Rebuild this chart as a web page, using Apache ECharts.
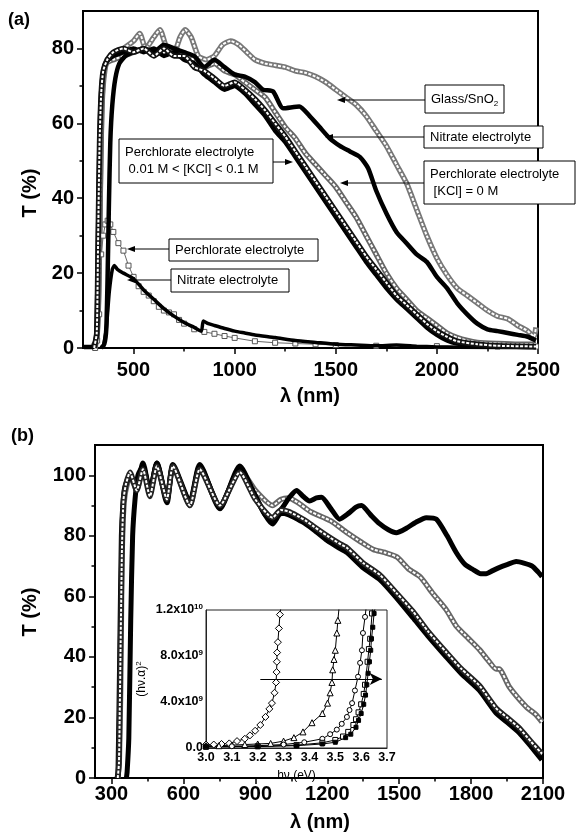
<!DOCTYPE html>
<html>
<head>
<meta charset="utf-8">
<script src="https://cdn.jsdelivr.net/npm/echarts@6/dist/echarts.min.js"></script>
<style>html,body{margin:0;padding:0;background:#fff}#c{width:576px;height:834px}</style>
</head>
<body>
<div id="c"></div>
<script>
// ---------- Panel (a) data: [wavelength nm, T %] ----------
const aGlass = [[300,0.5],[315,2],[325,10],[332,30],[338,52],[345,66],[355,73],[370,77],[400,78],[450,80],[500,82],[530,84],[560,80],[600,83],[630,85],[665,80],[700,79],[730,83],[755,85],[785,83],[820,78],[860,77],[900,78],[940,81],[980,82],[1020,81],[1060,79],[1100,77],[1150,76],[1200,75.5],[1250,75],[1300,74],[1350,73.5],[1400,72.5],[1450,71],[1500,69],[1550,67],[1600,65],[1650,62],[1700,58],[1750,54],[1800,49],[1850,44],[1900,37],[1950,30],[2000,24],[2050,19.5],[2100,16],[2150,14],[2200,12],[2250,10],[2300,8.5],[2350,7.8],[2400,6],[2450,4.5],[2480,3],[2490,5.5]];
const aNitrate = [[340,0],[355,1],[365,5],[372,20],[378,38],[385,55],[395,65],[410,72],[430,76],[460,78],[500,79],[550,80],[600,79],[650,81],[700,80],[750,79],[800,78],[850,75],[900,77],[950,75],[1000,73],[1050,72.5],[1100,71],[1140,69],[1190,68.5],[1240,64],[1320,64.5],[1370,62],[1420,59],[1470,56],[1520,54],[1570,52.5],[1620,51],[1660,48],[1700,42],[1750,36],[1800,31],[1850,28],[1900,25],[1950,23],[2000,19],[2050,16],[2100,12],[2150,9],[2200,6.5],[2250,5],[2300,4.5],[2350,4],[2400,3.5],[2450,3],[2490,2]];
const aKcl0 = [[305,0],[318,2],[328,15],[335,40],[342,62],[350,72],[365,76],[400,77],[450,78],[500,79],[550,80],[600,79],[650,80],[700,80],[750,78],[800,77],[850,75],[900,76],[950,74],[1000,73],[1050,71],[1100,69],[1150,67],[1200,63],[1250,59],[1300,56],[1350,52],[1400,49],[1450,46],[1500,43],[1550,39],[1600,35],[1650,30],[1700,25],[1750,20],[1800,16],[1850,13],[1900,10],[1950,8],[2000,6],[2050,4],[2100,2.8],[2150,2],[2200,1.5],[2300,1.2],[2400,1],[2490,1]];
const aKclMidFilled = [[255,0.3],[300,0.3],[315,3],[322,20],[328,45],[335,63],[345,72],[360,76],[400,78],[450,79],[500,80],[550,79],[600,80],[650,78],[700,79],[750,77],[800,76],[850,73],[900,71],[950,69],[1000,70],[1050,68],[1100,65],[1150,62],[1200,58],[1250,55],[1300,51],[1350,47],[1400,43],[1450,39],[1500,35],[1550,31],[1600,27],[1650,23],[1700,19.5],[1750,16],[1800,13],[1850,10.5],[1900,8],[1950,5.5],[2000,3.5],[2050,2],[2100,1.2],[2200,0.6],[2300,0.4],[2490,0.3]];
const aKclMidOpen = [[305,0],[318,4],[325,30],[332,55],[340,68],[350,74],[370,77],[400,79],[450,80],[500,79],[550,80],[600,78],[650,80],[700,78],[750,78],[800,75],[850,74],[900,72],[950,70],[1000,71],[1050,69],[1100,66.5],[1150,63.5],[1200,60],[1250,56.5],[1300,52.5],[1350,48.5],[1400,44.5],[1450,40.5],[1500,36.5],[1550,32.5],[1600,28.5],[1650,24.5],[1700,21],[1750,17.5],[1800,14],[1850,11.5],[1900,9],[1950,6.5],[2000,4.5],[2050,3],[2100,1.8],[2200,1],[2300,0.6],[2490,0.4]];
const aLowPerchlorate = [[310,0],[320,2],[330,9],[340,25],[350,30],[360,33],[372,34],[385,33],[400,31],[425,28],[450,26],[475,22],[500,19],[525,16.5],[550,15],[575,14],[600,12.5],[625,11],[650,10],[675,9.5],[700,9],[725,7.5],[750,6.5],[800,5],[850,4.3],[900,3.8],[950,3.2],[1000,2.7],[1100,1.8],[1200,1.4],[1300,1.2],[1400,1],[1500,0.8],[1700,0.6],[2000,0.5],[2300,0.4],[2490,0.4]];
const aLowNitrate = [[350,0],[365,5],[380,15],[395,21],[405,22],[420,21],[450,20],[500,18.5],[550,15.5],[600,13],[650,10.5],[700,8.5],[750,6.8],[800,5.5],[835,4.5],[845,7.2],[870,6.5],[900,6],[950,5.2],[1000,4.5],[1050,4],[1100,3.5],[1200,2.8],[1300,2],[1400,1.5],[1500,1],[1600,0.8],[1700,0.6],[1800,0.8],[1900,0.5],[2000,0.3],[2100,0.2],[2490,0.1]];
const aXTicks = [500,1000,1500,2000,2500];
const aXMinor = [750,1250,1750,2250];
const aYTicks = [0,20,40,60,80];
const aYMinor = [10,30,50,70];

// ---------- Panel (b) data ----------
const bTop = [[362,0],[365,2],[372,13],[380,52],[388,80],[398,92],[410,100],[431,103],[460,95],[489,104],[531,92],[556,103],[627,91],[668,103],[752,90],[835,102],[900,93],[940,87],[972,85],[1010,89],[1045,93],[1072,95],[1100,93],[1126,91.5],[1155,92.5],[1176,92.7],[1215,89],[1251,85.5],[1290,87.5],[1320,89.5],[1343,90],[1380,87],[1418,84],[1455,82],[1488,81],[1530,82.5],[1570,84.5],[1613,86],[1655,85.5],[1700,80],[1738,74.5],[1775,70.5],[1805,69],[1840,67.5],[1863,67.5],[1890,68.5],[1917,69.5],[1950,70.5],[1988,71.5],[2020,71],[2055,70],[2080,68],[2096,66.5]];
const bGlass = [[326,0],[332,5],[338,30],[343,70],[348,85],[355,93],[365,97],[377,100],[405,95],[431,103],[460,94],[489,104],[531,92],[556,103],[627,90],[668,103],[752,89.5],[835,102],[900,95],[972,90],[1006,92],[1040,92.5],[1077,91],[1130,88],[1213,85],[1283,81],[1340,78],[1392,75.5],[1440,74.5],[1491,73],[1540,69],[1587,66.5],[1640,61],[1697,55.5],[1740,50],[1790,46],[1835,42.4],[1870,39],[1905,36],[1917,36],[1960,30],[2030,23.5],[2070,21],[2096,18.5]];
const bLowFilled = [[324,0],[328,2],[335,40],[342,80],[348,90],[356,96],[377,100],[405,96],[431,104],[460,94],[489,104],[531,91],[556,103.5],[627,91],[668,103.5],[752,89],[835,103],[900,93],[972,84],[1006,87.5],[1040,87],[1077,85.5],[1110,84],[1145,82],[1200,78.5],[1250,76],[1283,74.5],[1350,69.5],[1421,65.5],[1490,59.5],[1558,53],[1620,47],[1697,40],[1760,34.5],[1835,29],[1905,21.5],[1950,18.5],[2001,15],[2050,10.5],[2096,6]];
const bLowOpen = [[326,0],[331,5],[338,45],[344,78],[350,92],[360,97],[377,101],[405,95],[431,102],[460,93],[489,103],[531,92],[556,103],[627,90],[668,102],[752,90],[835,101],[900,92],[972,86],[1006,88.5],[1040,88],[1077,86.5],[1110,85],[1145,83],[1200,80],[1250,77.5],[1283,76],[1350,71],[1421,67],[1490,61],[1558,55],[1620,48.5],[1697,41.5],[1760,36],[1835,30.5],[1905,23],[1950,20],[2001,16.5],[2050,12],[2096,8]];
const bXTicks = [300,600,900,1200,1500,1800,2100];
const bXMinor = [450,750,1050,1350,1650,1950];
const bYTicks = [0,20,40,60,80,100];
const bYMinor = [10,30,50,70,90];

// ---------- Inset data: [hv eV, (hv·α)^2 in units of 10^9] ----------
const inDiamond = [[3.00,0.3],[3.03,0.3],[3.06,0.35],[3.09,0.4],[3.12,0.6],[3.15,0.8],[3.17,1.1],[3.19,1.5],[3.21,2.0],[3.23,2.7],[3.245,3.4],[3.255,3.9],[3.265,4.8],[3.271,5.7],[3.273,6.6],[3.274,7.5],[3.275,8.3],[3.278,9.2],[3.282,10.4],[3.286,11.6],[3.29,12.3]];
const inTriangle = [[3.00,0.2],[3.05,0.2],[3.10,0.25],[3.15,0.3],[3.20,0.35],[3.25,0.4],[3.30,0.6],[3.34,0.9],[3.375,1.4],[3.41,2.2],[3.45,3.0],[3.47,3.9],[3.48,4.8],[3.487,5.7],[3.49,6.8],[3.495,7.7],[3.50,8.5],[3.506,10.0],[3.51,11.1],[3.515,12.3]];
const inCircle = [[3.0,0.15],[3.1,0.15],[3.2,0.2],[3.3,0.3],[3.38,0.5],[3.45,0.8],[3.48,1.2],[3.506,1.6],[3.525,2.1],[3.545,2.7],[3.555,3.3],[3.565,3.9],[3.576,5.0],[3.588,6.2],[3.596,7.4],[3.603,8.5],[3.607,10.0],[3.615,11.4],[3.62,12.3]];
const inSquareOpen = [[3.0,0.1],[3.2,0.15],[3.35,0.25],[3.45,0.45],[3.5,0.7],[3.53,1.0],[3.55,1.4],[3.57,2.0],[3.58,2.5],[3.59,3.1],[3.60,3.8],[3.61,4.7],[3.615,5.5],[3.625,7.5],[3.63,8.6],[3.635,9.5],[3.642,11.7],[3.645,12.3]];
const inSquareFilled = [[3.0,0.1],[3.2,0.12],[3.35,0.2],[3.45,0.35],[3.5,0.5],[3.54,0.9],[3.56,1.2],[3.58,1.8],[3.59,2.4],[3.60,3.0],[3.61,3.8],[3.617,4.6],[3.622,5.5],[3.627,6.5],[3.632,7.5],[3.637,8.5],[3.64,9.5],[3.645,10.5],[3.65,11.7],[3.655,12.3]];
const inArrow = [[3.21,6.0],[3.68,6.0]];
const inYLabels = {0:'0.0',4:'4.0x10{s|9}',8:'8.0x10{s|9}',12:'1.2x10{s|10}'};

const FONT = "'Liberation Sans', Arial, Helvetica, sans-serif";
const chart = echarts.init(document.getElementById('c'), null, {renderer:'canvas'});

function openTube(data, xi, color, z){
  return [
    {type:'line', xAxisIndex:xi, yAxisIndex:xi, data, symbol:'none', smooth:0.2, lineStyle:{color, width:5.5}, z:z, silent:true},
    {type:'line', xAxisIndex:xi, yAxisIndex:xi, data, symbol:'none', smooth:0.2, lineStyle:{color:'#fff', width:2, type:[3,1.5]}, z:z+0.1, silent:true}
  ];
}
function filledLine(data, xi, w, z){
  return {type:'line', xAxisIndex:xi, yAxisIndex:xi, data, symbol:'none', smooth:0.2, lineStyle:{color:'#000', width:w}, z:z, silent:true};
}
function insetSeries(data, symbol, size, fill){
  return {type:'line', xAxisIndex:4, yAxisIndex:4, data, symbol, symbolSize:size, showAllSymbol:true,
    lineStyle:{color:'#000', width:1}, itemStyle:{color:fill, borderColor:'#000', borderWidth:1}, z:5, silent:true};
}
const axisBase = {
  type:'value', splitLine:{show:false},
  axisLine:{show:true, onZero:false, lineStyle:{color:'#000', width:2}},
};
function mainX(grid, min, max, ticks, margin){
  return Object.assign({}, axisBase, {gridIndex:grid, min, max, position:'bottom',
    axisTick:{show:true, customValues:ticks, length:6, lineStyle:{color:'#000', width:1.5}},
    axisLabel:{customValues:ticks, color:'#000', fontSize:20, fontWeight:'bold', fontFamily:FONT, margin, formatter:v=>String(v)}});
}
function minorX(grid, min, max, ticks){
  return {type:'value', gridIndex:grid, min, max, position:'bottom', splitLine:{show:false},
    axisLine:{show:false}, axisLabel:{show:false},
    axisTick:{show:true, customValues:ticks, length:3.5, lineStyle:{color:'#000', width:1.5}}};
}
function mainY(grid, min, max, ticks){
  return Object.assign({}, axisBase, {gridIndex:grid, min, max, position:'left',
    axisTick:{show:true, customValues:ticks, length:6, lineStyle:{color:'#000', width:1.5}},
    axisLabel:{customValues:ticks, color:'#000', fontSize:20, fontWeight:'bold', fontFamily:FONT, margin:9, formatter:v=>String(v)}});
}
function minorY(grid, min, max, ticks){
  return {type:'value', gridIndex:grid, min, max, position:'left', splitLine:{show:false},
    axisLine:{show:false}, axisLabel:{show:false},
    axisTick:{show:true, customValues:ticks, length:3.5, lineStyle:{color:'#000', width:1.5}}};
}

// annotation helper (panel a)
function box(x, y, w, h, lines){
  const els = [{type:'rect', shape:{x, y, width:w, height:h}, style:{fill:'#fff', stroke:'#000', lineWidth:1}, z:100}];
  els.push({type:'text', x:x+6, y:y+h/2, z:101, style:{text:lines, fill:'#000', font:"13px "+FONT, textAlign:'left', textVerticalAlign:'middle', lineHeight:17,
    rich:{sub:{fontSize:8, verticalAlign:'bottom', padding:[6,0,0,0], fontFamily:FONT}}}});
  return els;
}
function arrow(x1, x2, y){
  const dir = x2 < x1 ? 1 : -1;
  return [
    {type:'line', shape:{x1, y1:y, x2:x2 + dir*6, y2:y}, style:{stroke:'#000', lineWidth:1}, z:100},
    {type:'polygon', shape:{points:[[x2,y],[x2+dir*8,y-3],[x2+dir*8,y+3]]}, style:{fill:'#000'}, z:100}
  ];
}

const graphics = [].concat(
  box(425, 85, 79, 28, 'Glass/SnO{sub|2}'), arrow(425, 337, 100),
  box(424, 126, 119, 22, 'Nitrate electrolyte'), arrow(424, 325, 137),
  box(424, 161, 151, 43, 'Perchlorate electrolyte\n [KCl] = 0 M'), arrow(424, 340, 183),
  box(119, 139, 154, 44, 'Perchlorate electrolyte\n 0.01 M < [KCl] < 0.1 M'), arrow(273, 293, 162),
  box(169, 239, 149, 22, 'Perchlorate electrolyte'), arrow(169, 127, 249),
  box(171, 269, 118, 23, 'Nitrate electrolyte'), arrow(171, 127, 280),
  [
    {type:'text', x:8, y:20, style:{text:'(a)', font:"bold 18px "+FONT, fill:'#000', textVerticalAlign:'middle'}},
    {type:'text', x:11, y:436, style:{text:'(b)', font:"bold 18px "+FONT, fill:'#000', textVerticalAlign:'middle'}},
    {type:'text', x:30, y:193, rotation:Math.PI/2, style:{text:'T (%)', font:"bold 20px "+FONT, fill:'#000', textAlign:'center', textVerticalAlign:'middle'}},
    {type:'text', x:30, y:612, rotation:Math.PI/2, style:{text:'T (%)', font:"bold 20px "+FONT, fill:'#000', textAlign:'center', textVerticalAlign:'middle'}},
    {type:'text', x:310, y:396, style:{text:'λ (nm)', font:"bold 20px "+FONT, fill:'#000', textAlign:'center', textVerticalAlign:'middle'}},
    {type:'text', x:320, y:822, style:{text:'λ (nm)', font:"bold 20px "+FONT, fill:'#000', textAlign:'center', textVerticalAlign:'middle'}}
  ]
);

const option = {
  animation:false,
  backgroundColor:'#fff',
  textStyle:{fontFamily:FONT},
  grid:[
    {left:83, top:11, width:455, height:337, show:true, borderColor:'#000', borderWidth:2, backgroundColor:'transparent'},
    {left:95, top:445, width:448, height:333, show:true, borderColor:'#000', borderWidth:2, backgroundColor:'transparent'},
    {left:206, top:610, width:181, height:138, show:true, borderColor:'#222', borderWidth:1, backgroundColor:'transparent'}
  ],
  xAxis:[
    mainX(0, 250, 2500, aXTicks, 12),
    minorX(0, 250, 2500, aXMinor),
    mainX(1, 231, 2100, bXTicks, 6),
    minorX(1, 231, 2100, bXMinor),
    {type:'value', gridIndex:2, min:3.0, max:3.7, interval:0.1, splitLine:{show:false},
      axisLine:{onZero:false, lineStyle:{color:'#222', width:1}}, axisTick:{show:false},
      axisLabel:{color:'#000', fontSize:12.5, fontWeight:'bold', fontFamily:FONT, margin:3, formatter:v=>v.toFixed(1)},
      name:'hν (eV)', nameLocation:'middle', nameGap:22, nameTextStyle:{color:'#000', fontSize:12, fontFamily:FONT}}
  ],
  yAxis:[
    mainY(0, 0, 90, aYTicks),
    minorY(0, 0, 90, aYMinor),
    mainY(1, 0, 110, bYTicks),
    minorY(1, 0, 110, bYMinor),
    {type:'value', gridIndex:2, min:0, max:12, interval:4, splitLine:{show:false},
      axisLine:{onZero:false, lineStyle:{color:'#222', width:1}}, axisTick:{show:false},
      axisLabel:{color:'#000', fontSize:12.5, fontWeight:'bold', fontFamily:FONT, margin:3,
        formatter:v=>inYLabels[v] !== undefined ? inYLabels[v] : '',
        rich:{s:{fontSize:8, fontWeight:'bold', verticalAlign:'top', padding:[0,0,6,0], fontFamily:FONT}}},
      name:'(hν.α){p|2}', nameLocation:'middle', nameGap:57,
      nameTextStyle:{color:'#000', fontSize:12, fontFamily:FONT, rich:{p:{fontSize:8, verticalAlign:'top', padding:[0,0,6,0]}}}}
  ],
  series:[].concat(
    // panel (a)
    openTube(aGlass, 0, '#777', 2),
    openTube(aKcl0, 0, '#666', 3),
    [filledLine(aNitrate, 0, 4.5, 4)],
    [filledLine(aKclMidFilled, 0, 4.5, 4)],
    openTube(aKclMidOpen, 0, '#111', 4.2),
    [{type:'line', xAxisIndex:0, yAxisIndex:0, data:aLowPerchlorate, symbol:'rect', symbolSize:5, showAllSymbol:true,
      lineStyle:{color:'#666', width:1}, itemStyle:{color:'#fff', borderColor:'#555', borderWidth:1}, z:3, silent:true}],
    [filledLine(aLowNitrate, 0, 3.5, 4)],
    // panel (b)
    [filledLine(bTop, 2, 5, 4)],
    openTube(bGlass, 2, '#666', 3),
    [filledLine(bLowFilled, 2, 5.5, 4)],
    openTube(bLowOpen, 2, '#222', 4.2),
    // inset
    [insetSeries(inDiamond, 'diamond', 7, '#fff'),
     insetSeries(inTriangle, 'triangle', 6, '#fff'),
     insetSeries(inCircle, 'circle', 5, '#fff'),
     insetSeries(inSquareOpen, 'rect', 5, '#fff'),
     insetSeries(inSquareFilled, 'rect', 4, '#000'),
     {type:'line', xAxisIndex:4, yAxisIndex:4, data:[], symbol:'none', silent:true,
      markLine:{silent:true, symbol:['none','arrow'], symbolSize:[9,12], label:{show:false},
        lineStyle:{color:'#000', width:1.2, type:'solid'},
        data:[[{coord:inArrow[0]},{coord:inArrow[1]}]]}, z:6}]
  ),
  graphic:graphics
};
chart.setOption(option);
</script>
</body>
</html>
